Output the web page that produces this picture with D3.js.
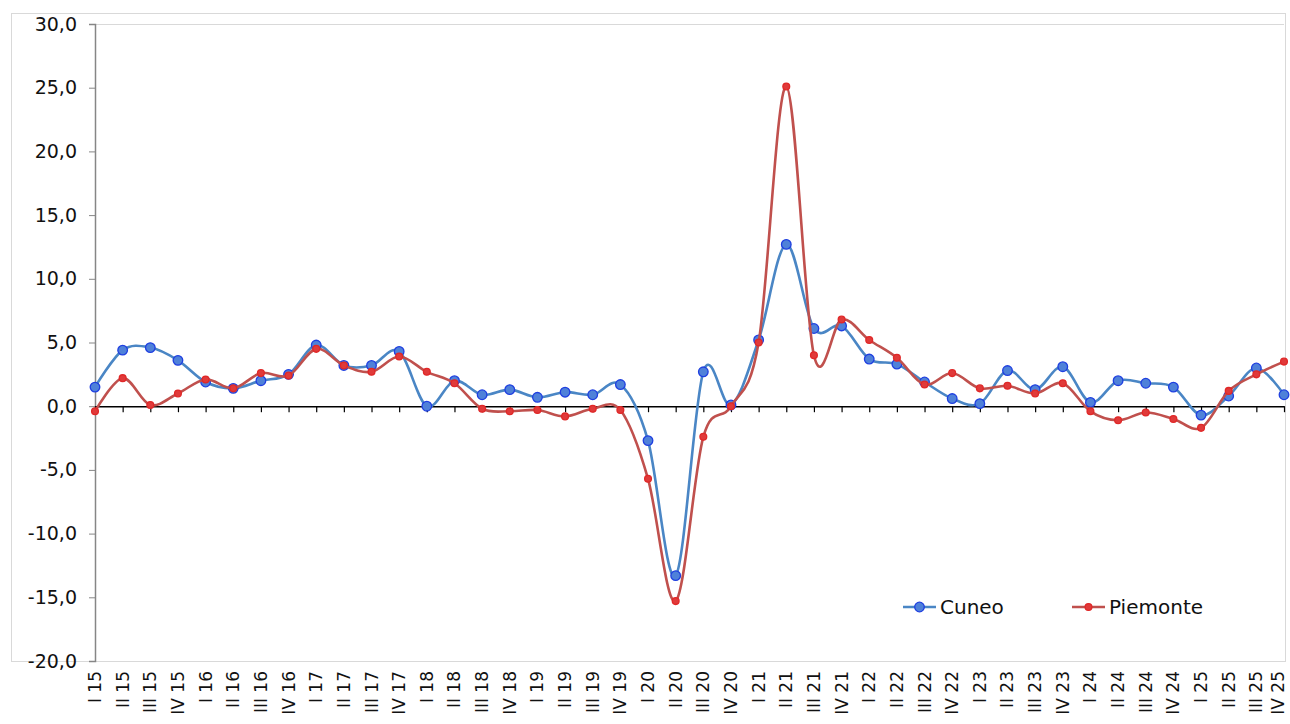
<!DOCTYPE html>
<html>
<head>
<meta charset="utf-8">
<script src="https://cdn.jsdelivr.net/npm/d3@7"></script>
<style>
  body { margin: 0; background: #fff; }
  svg { display: block; font-family: "DejaVu Sans", Verdana, sans-serif; }
</style>
</head>
<body>
<svg id="chart" width="1290" height="724"></svg>
<script>
const quarters = ["I 15","II 15","III 15","IV 15","I 16","II 16","III 16","IV 16","I 17","II 17","III 17","IV 17",
  "I 18","II 18","III 18","IV 18","I 19","II 19","III 19","IV 19","I 20","II 20","III 20","IV 20",
  "I 21","II 21","III 21","IV 21","I 22","II 22","III 22","IV 22","I 23","II 23","III 23","IV 23",
  "I 24","II 24","III 24","IV 24","I 25","II 25","III 25","IV 25"];

const cuneo = [1.5,4.4,4.6,3.6,1.9,1.4,2.0,2.5,4.8,3.2,3.2,4.3,
  0.0,2.0,0.9,1.3,0.7,1.1,0.9,1.7,-2.7,-13.3,2.7,0.1,
  5.2,12.7,6.1,6.3,3.7,3.3,1.9,0.6,0.2,2.8,1.3,3.1,
  0.3,2.0,1.8,1.5,-0.7,0.8,3.0,0.9];

const piemonte = [-0.4,2.2,0.1,1.0,2.1,1.4,2.6,2.4,4.5,3.2,2.7,3.9,
  2.7,1.8,-0.2,-0.4,-0.3,-0.8,-0.2,-0.3,-5.7,-15.3,-2.4,0.0,
  5.0,25.1,4.0,6.8,5.2,3.8,1.7,2.6,1.4,1.6,1.0,1.8,
  -0.4,-1.1,-0.5,-1.0,-1.7,1.2,2.5,3.5];

const yTicks = [-20,-15,-10,-5,0,5,10,15,20,25,30];

const svg = d3.select("#chart");
const mLeft = 95, mRight = 1284, mTop = 24, mBottom = 661;

// cornice del grafico
svg.append("rect")
  .attr("x", 11.5).attr("y", 13.5)
  .attr("width", 1274).attr("height", 648)
  .attr("fill", "none").attr("stroke", "#d9d9d9");

svg.append("line")
  .attr("x1", mLeft).attr("x2", mRight)
  .attr("y1", mTop + 0.5).attr("y2", mTop + 0.5)
  .attr("stroke", "#d9d9d9");

const x = d3.scalePoint().domain(quarters).range([mLeft, mRight]);
const y = d3.scaleLinear().domain([-20, 30]).range([mBottom, mTop]);

// asse verticale (trattino normale come segno meno)
const yAxis = svg.append("g")
  .attr("transform", `translate(${mLeft},0)`)
  .call(d3.axisLeft(y).tickValues(yTicks).tickSize(6)
    .tickFormat(d => d.toFixed(1).replace(".", ",")));
yAxis.select(".domain").attr("stroke", "#868686").attr("stroke-width", 1.5);
yAxis.selectAll(".tick line").attr("stroke", "#868686");
yAxis.selectAll(".tick text")
  .attr("x", -18)
  .attr("font-size", "19px")
  .attr("fill", "#111")
  .attr("font-family", "DejaVu Sans, Verdana, sans-serif");

// asse orizzontale sullo zero
const xAxis = svg.append("g")
  .attr("transform", `translate(0,${y(0)})`)
  .call(d3.axisBottom(x).tickSize(6).tickSizeOuter(0).tickFormat(""));
xAxis.select(".domain").attr("stroke", "#000").attr("stroke-width", 1.5);
xAxis.selectAll(".tick line").attr("stroke", "#000").attr("stroke-width", 1.2);

// etichette trimestri in basso (l'ultima tenuta dentro il bordo)
svg.append("g")
  .selectAll("text")
  .data(quarters)
  .join("text")
  .attr("transform", d => `translate(${Math.min(x(d) + 6, 1284)},671) rotate(-90)`)
  .attr("text-anchor", "end")
  .attr("font-size", "17px")
  .attr("fill", "#111")
  .text(d => d);

const line = d3.line()
  .x((d, i) => x(quarters[i]))
  .y(d => y(d))
  .curve(d3.curveCardinal.tension(0));

const series = [
  { name: "Cuneo", values: cuneo, line: "#4a86c5", fill: "#4f81d9", stroke: "#1f3fe0", r: 4.8, lx: 903 },
  { name: "Piemonte", values: piemonte, line: "#c0504d", fill: "#e03a3a", stroke: "#e02828", r: 3.4, lx: 1072 }
];

series.forEach(s => {
  svg.append("path")
    .datum(s.values)
    .attr("fill", "none")
    .attr("stroke", s.line)
    .attr("stroke-width", 2.6)
    .attr("d", line);

  svg.append("g")
    .selectAll("circle")
    .data(s.values)
    .join("circle")
    .attr("cx", (d, i) => x(quarters[i]))
    .attr("cy", d => y(d))
    .attr("r", s.r)
    .attr("fill", s.fill)
    .attr("stroke", s.stroke)
    .attr("stroke-width", 1.3);

  // legenda
  const g = svg.append("g").attr("transform", `translate(${s.lx},607)`);
  g.append("line").attr("x1", 0).attr("x2", 33)
    .attr("stroke", s.line).attr("stroke-width", 2.6);
  g.append("circle").attr("cx", 16.5).attr("r", s.r)
    .attr("fill", s.fill).attr("stroke", s.stroke).attr("stroke-width", 1.3);
  g.append("text").attr("x", 37).attr("dy", "0.35em")
    .attr("font-size", "20px").attr("fill", "#111")
    .text(s.name);
});
</script>
</body>
</html>
